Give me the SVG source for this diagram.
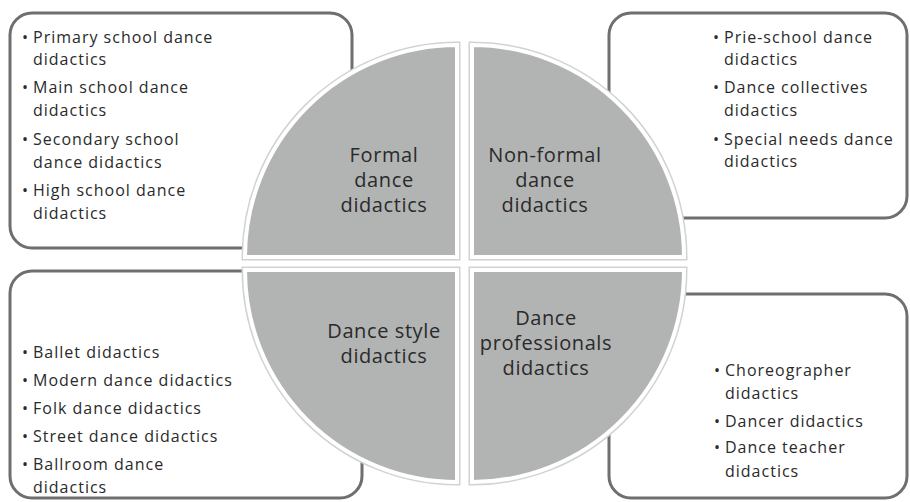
<svg xmlns="http://www.w3.org/2000/svg" width="910" height="502" viewBox="0 0 910 502">
<style>
.box{fill:#ffffff;stroke:#6f6f6f;stroke-width:3}
.qo{fill:none;stroke:#d2d2d2;stroke-width:7;stroke-linejoin:miter}
.q{fill:#b2b4b4;stroke:#ffffff;stroke-width:4;stroke-linejoin:miter}
.t{font-family:"Open Sans","Liberation Sans",sans-serif;font-size:16px;letter-spacing:1px;fill:#2a2a2a}
.l{font-family:"Open Sans","Liberation Sans",sans-serif;font-size:20px;letter-spacing:0.6px;fill:#2a2a2a;text-anchor:middle}
</style>
<rect width="910" height="502" fill="#ffffff"/>
<g id="box-formal">
<rect class="box" x="10" y="13" width="342" height="235" rx="22"/>
<text class="t"><tspan x="22" y="43">•</tspan><tspan x="33" y="43">Primary school dance</tspan><tspan x="33" y="65">didactics</tspan><tspan x="22" y="93">•</tspan><tspan x="33" y="93">Main school dance</tspan><tspan x="33" y="116">didactics</tspan><tspan x="22" y="145">•</tspan><tspan x="33" y="145">Secondary school</tspan><tspan x="33" y="168">dance didactics</tspan><tspan x="22" y="196">•</tspan><tspan x="33" y="196">High school dance</tspan><tspan x="33" y="219">didactics</tspan></text>
</g>
<g id="box-nonformal">
<rect class="box" x="609" y="13" width="298" height="205" rx="22"/>
<text class="t"><tspan x="713" y="43">•</tspan><tspan x="724" y="43">Prie-school dance</tspan><tspan x="724" y="65">didactics</tspan><tspan x="713" y="93">•</tspan><tspan x="724" y="93">Dance collectives</tspan><tspan x="724" y="116">didactics</tspan><tspan x="713" y="145">•</tspan><tspan x="724" y="145">Special needs dance</tspan><tspan x="724" y="167">didactics</tspan></text>
</g>
<g id="box-style">
<rect class="box" x="10" y="271" width="352" height="227" rx="22"/>
<text class="t"><tspan x="22" y="358">•</tspan><tspan x="33" y="358">Ballet didactics</tspan><tspan x="22" y="386">•</tspan><tspan x="33" y="386">Modern dance didactics</tspan><tspan x="22" y="414">•</tspan><tspan x="33" y="414">Folk dance didactics</tspan><tspan x="22" y="442">•</tspan><tspan x="33" y="442">Street dance didactics</tspan><tspan x="22" y="470">•</tspan><tspan x="33" y="470">Ballroom dance</tspan><tspan x="33" y="493">didactics</tspan></text>
</g>
<g id="box-professionals">
<rect class="box" x="609" y="294" width="298" height="204" rx="22"/>
<text class="t"><tspan x="714" y="376">•</tspan><tspan x="725" y="376">Choreographer</tspan><tspan x="725" y="399">didactics</tspan><tspan x="714" y="427">•</tspan><tspan x="725" y="427">Dancer didactics</tspan><tspan x="714" y="453">•</tspan><tspan x="725" y="453">Dance teacher</tspan><tspan x="725" y="477">didactics</tspan></text>
</g>
<g id="q-formal">
<path class="qo" d="M457,257 L245,257 A212,212 0 0 1 457,45 Z"/>
<path class="q" d="M457,257 L245,257 A212,212 0 0 1 457,45 Z"/>
<text class="l"><tspan x="384" y="162">Formal</tspan><tspan x="384" y="187">dance</tspan><tspan x="384" y="212">didactics</tspan></text>
</g>
<g id="q-nonformal">
<path class="qo" d="M472,257 L472,45 A212,212 0 0 1 684,257 Z"/>
<path class="q" d="M472,257 L472,45 A212,212 0 0 1 684,257 Z"/>
<text class="l"><tspan x="545" y="162">Non-formal</tspan><tspan x="545" y="187">dance</tspan><tspan x="545" y="212">didactics</tspan></text>
</g>
<g id="q-style">
<path class="qo" d="M457,270 L457,482 A212,212 0 0 1 245,270 Z"/>
<path class="q" d="M457,270 L457,482 A212,212 0 0 1 245,270 Z"/>
<text class="l"><tspan x="384" y="338">Dance style</tspan><tspan x="384" y="363">didactics</tspan></text>
</g>
<g id="q-professionals">
<path class="qo" d="M472,270 L684,270 A212,212 0 0 1 472,482 Z"/>
<path class="q" d="M472,270 L684,270 A212,212 0 0 1 472,482 Z"/>
<text class="l"><tspan x="546" y="325">Dance</tspan><tspan x="546" y="350">professionals</tspan><tspan x="546" y="375">didactics</tspan></text>
</g>
<g id="connectors"></g>
</svg>
